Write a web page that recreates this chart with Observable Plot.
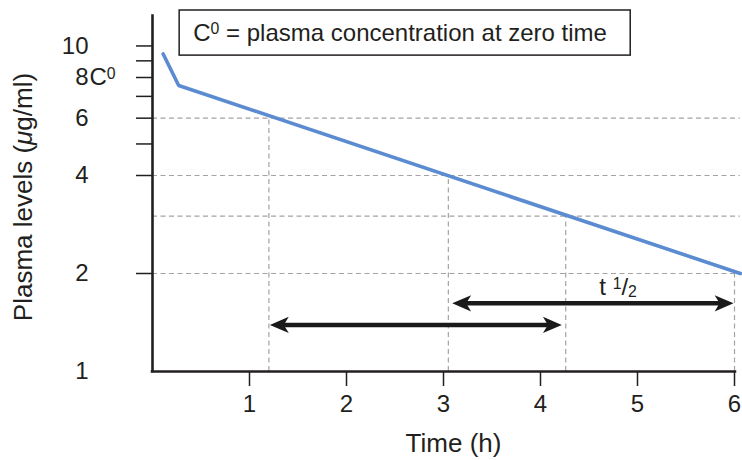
<!DOCTYPE html>
<html><head><meta charset="utf-8">
<script src="https://cdn.jsdelivr.net/npm/d3@7"></script>
<script src="https://cdn.jsdelivr.net/npm/@observablehq/plot@0.6"></script>
<style>
html,body{margin:0;padding:0;background:#fff;}
#chart{width:742px;height:460px;}
</style></head><body><div id="chart"></div>
<script>
// ---- data ----
const curveTime = [0.11, 0.27, 6.06];
const curveLevel = [9.45, 7.56, 2.0];
const yTickValues = [2, 4, 5, 6, 7, 8, 9, 10];
const yLabelValues = [1, 2, 4, 6, 8, 10];
const xTickValues = [1, 2, 3, 4, 5, 6];
const gridLevels = [6, 4, 3, 2];
const gridTimes = [1.2, 3.05, 4.26, 6.0];
const arrowStart = [1.21, 3.09];
const arrowEnd = [4.22, 5.99];
const arrowLevel = [1.39, 1.62];
const boxText = "C^0 = plasma concentration at zero time";
const halfLifeText = "t ^1/_2";
const c0Text = "C^0";
const xLabel = "Time (h)";
const yLabel = "Plasma levels (μg/ml)";

const ink = "#231f20";
const curve = curveTime.map((t, i) => ({t, v: curveLevel[i]}));
const verticals = gridTimes.map((t, i) => ({t, top: gridLevels[i]}));
const arrows = arrowStart.map((s, i) => ({s, e: arrowEnd[i], v: arrowLevel[i]}));
const heads = arrows.flatMap(a => [{t: a.s, v: a.v, rot: 180}, {t: a.e, v: a.v, rot: 0}]);

const stealth = {draw(ctx, size) {
  const r = Math.sqrt(size / Math.PI);
  ctx.moveTo(0, 0);
  ctx.lineTo(-2.1 * r, -0.9 * r);
  ctx.lineTo(-1.55 * r, 0);
  ctx.lineTo(-2.1 * r, 0.9 * r);
  ctx.closePath();
}};

const FS = 24;   // ticks, box, annotations
const LS = 26;   // axis titles
const dash = {stroke: "#a3a3a3", strokeWidth: 1.2, strokeDasharray: "5,3.5"};

const chart = Plot.plot({
  width: 742, height: 460,
  marginLeft: 152, marginRight: 8, marginTop: 10, marginBottom: 89,
  style: {fontFamily: "'Liberation Sans', Arial, Helvetica, sans-serif", fontSize: FS + "px", color: ink, background: "white"},
  x: {domain: [0, 6], label: null},
  y: {type: "log", domain: [1, 12.85], label: null},
  marks: [
    // dashed guides
    Plot.ruleY(gridLevels, {y: d => d, x1: () => 0, x2: () => 6.06, ...dash}),
    Plot.ruleX(verticals, {x: "t", y1: () => 1, y2: "top", ...dash}),
    // axes
    Plot.axisY({ticks: yTickValues, tickSize: 16, tickFormat: null, text: null, stroke: ink, strokeWidth: 1.5}),
    Plot.axisY({ticks: yLabelValues, tickSize: 0, tickPadding: 64, tickFormat: d => String(d), fontSize: FS, fill: ink}),
    Plot.axisX({ticks: xTickValues, tickSize: 15, tickPadding: 8, tickFormat: d => String(d), fontSize: FS, stroke: ink, fill: ink, strokeWidth: 1.5}),
    Plot.ruleX([0], {x: d => d, y1: () => 1, y2: () => 12.35, stroke: ink, strokeWidth: 2.6, strokeLinecap: "square"}),
    Plot.ruleY([1], {y: d => d, x1: () => 0, x2: () => 6.01, stroke: ink, strokeWidth: 2.6, strokeLinecap: "square"}),
    // curve
    Plot.line(curve, {x: "t", y: "v", stroke: "#5b8bd0", strokeWidth: 3.6, strokeLinejoin: "round", strokeLinecap: "round"}),
    // arrows
    Plot.ruleY(arrows, {y: "v", x1: "s", x2: "e", stroke: "#1a1a1a", strokeWidth: 4.6, insetLeft: 12, insetRight: 12}),
    Plot.dot(heads, {x: "t", y: "v", rotate: "rot", symbol: stealth, r: 9, fill: "#1a1a1a", stroke: "none"}),
    Plot.text([halfLifeText], {x: () => 4.8, y: () => 1.62, text: d => d, dy: -8, lineAnchor: "bottom", fontSize: FS, fill: ink}),
    // C0 box
    Plot.rect([boxText], {x1: () => 0.28, x2: () => 4.93, y1: () => 9.34, y2: () => 12.85, fill: "white", stroke: ink, strokeWidth: 1.5}),
    Plot.text([boxText], {x: () => 0.42, y: () => 10.95, text: d => d, textAnchor: "start", lineAnchor: "middle", fontSize: FS, fill: ink}),
    Plot.text([c0Text], {x: () => 0, y: () => 8, text: d => d, dx: -63, textAnchor: "start", lineAnchor: "middle", fontSize: FS, fill: ink}),
    // axis titles
    Plot.text([xLabel], {frameAnchor: "bottom", text: d => d, dx: 10, dy: 72, textAnchor: "middle", lineAnchor: "middle", fontSize: LS, fill: ink}),
    Plot.text([yLabel], {frameAnchor: "left", text: d => d, rotate: -90, dx: -121, dy: 6, textAnchor: "middle", lineAnchor: "bottom", fontSize: LS, fill: ink})
  ]
});
document.getElementById("chart").appendChild(chart);

// rich text: ^x superscript, _x subscript, μ italic
function richText(svg) {
  d3.select(svg).selectAll("text").each(function() {
    const el = this;
    const s = el.textContent;
    if (!/[\^_μ]/.test(s)) return;
    const fs = parseFloat(getComputedStyle(el).fontSize) || FS;
    const segs = [];
    for (let i = 0; i < s.length; i++) {
      const c = s[i];
      if (c === "^" && i + 1 < s.length) { segs.push({t: s[++i], kind: "sup"}); }
      else if (c === "_" && i + 1 < s.length) { segs.push({t: s[++i], kind: "sub"}); }
      else if (c === "μ") { segs.push({t: c, kind: "it"}); }
      else {
        const last = segs[segs.length - 1];
        if (last && last.kind === "n") last.t += c; else segs.push({t: c, kind: "n"});
      }
    }
    while (el.firstChild) el.removeChild(el.firstChild);
    let cur = 0;
    for (const g of segs) {
      const shift = g.kind === "sup" ? -0.27 * fs : g.kind === "sub" ? 0.06 * fs : 0;
      const ts = d3.select(el).append("tspan").text(g.t);
      if (shift - cur !== 0) ts.attr("dy", (shift - cur) + "px");
      cur = shift;
      if (g.kind === "sup" || g.kind === "sub") ts.attr("font-size", (0.66 * fs) + "px");
      if (g.kind === "it") ts.attr("font-style", "italic");
    }
  });
}
richText(chart);
</script>
</body></html>
